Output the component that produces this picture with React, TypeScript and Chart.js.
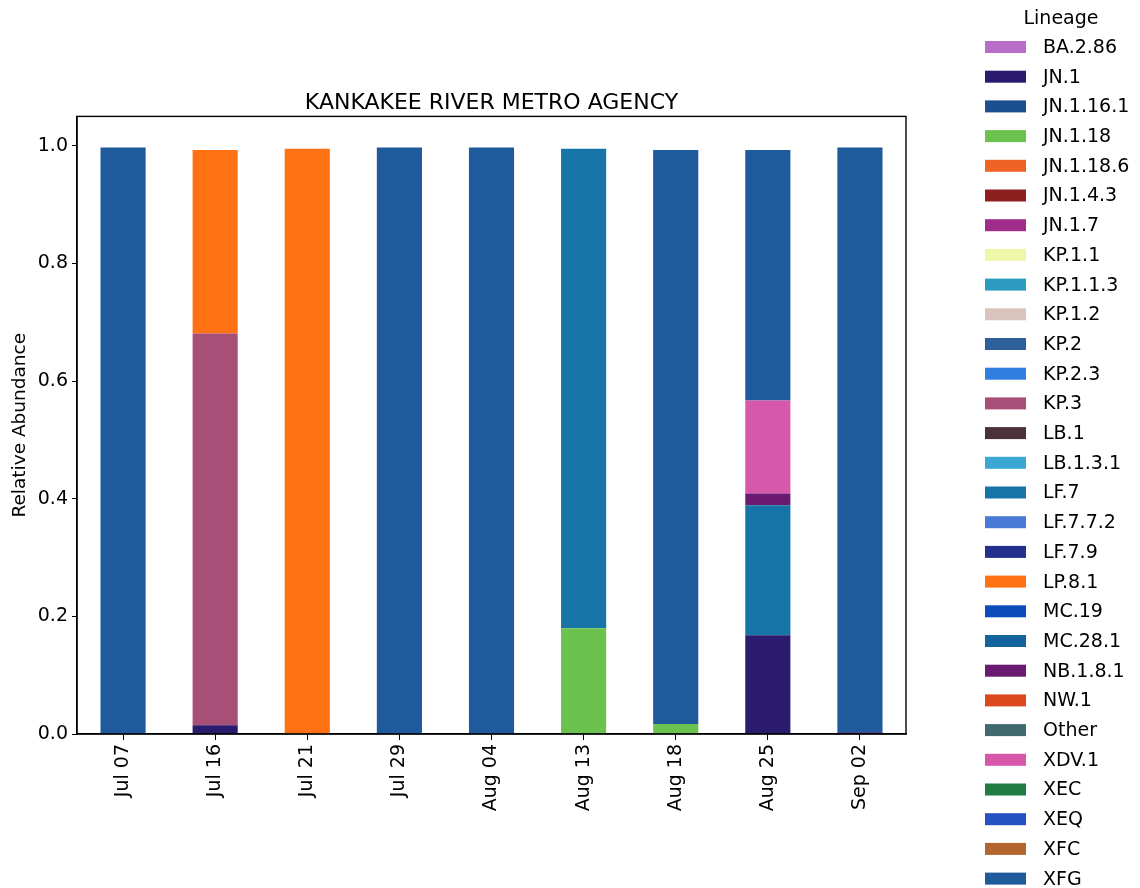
import React, { useEffect, useRef } from "react";
import { Chart, registerables } from "chart.js";

Chart.register(...registerables);

const FONT = "DejaVu Sans";

const dates = ["Jul 07", "Jul 16", "Jul 21", "Jul 29", "Aug 04", "Aug 13", "Aug 18", "Aug 25", "Sep 02"];

const lineages = [
  "BA.2.86", "JN.1", "JN.1.16.1", "JN.1.18", "JN.1.18.6", "JN.1.4.3", "JN.1.7", "KP.1.1", "KP.1.1.3", "KP.1.2",
  "KP.2", "KP.2.3", "KP.3", "LB.1", "LB.1.3.1", "LF.7", "LF.7.7.2", "LF.7.9", "LP.8.1", "MC.19",
  "MC.28.1", "NB.1.8.1", "NW.1", "Other", "XDV.1", "XEC", "XEQ", "XFC", "XFG",
];

const colors = [
  "#b86ec8", "#2a1b6e", "#1b4f8f", "#6cc24f", "#ef6424", "#8e1f1f", "#a02c8c", "#eef7a8", "#2b9cc0", "#d9c3bc",
  "#2e5f9a", "#2f7ee0", "#a84f78", "#4b3239", "#3aa8d2", "#1774a6", "#4a7ad8", "#22318c", "#ff7214", "#0a4db8",
  "#13639c", "#6a1a70", "#da4a1e", "#40686f", "#d757ab", "#1f7d44", "#2452c0", "#b2662e", "#1e5a9c",
];

// values per lineage across dates (only non-zero lineages listed)
const JN_1 = [0, 0.015, 0, 0, 0, 0, 0, 0.168, 0.003];
const JN_1_18 = [0, 0, 0, 0, 0, 0.18, 0.017, 0, 0];
const KP_3 = [0, 0.666, 0, 0, 0, 0, 0, 0, 0];
const LF_7 = [0, 0, 0, 0, 0, 0.815, 0, 0.221, 0];
const LP_8_1 = [0, 0.312, 0.995, 0, 0, 0, 0, 0, 0];
const NB_1_8_1 = [0, 0, 0, 0, 0, 0, 0, 0.02, 0];
const XDV_1 = [0, 0, 0, 0, 0, 0, 0, 0.158, 0];
const XFG = [0.997, 0, 0, 0.997, 0.997, 0, 0.976, 0.426, 0.994];
const ZERO = [0, 0, 0, 0, 0, 0, 0, 0, 0];

const seriesValues: Record<string, number[]> = {
  "JN.1": JN_1,
  "JN.1.18": JN_1_18,
  "KP.3": KP_3,
  "LF.7": LF_7,
  "LP.8.1": LP_8_1,
  "NB.1.8.1": NB_1_8_1,
  "XDV.1": XDV_1,
  "XFG": XFG,
};

const yTicks = [0, 0.2, 0.4, 0.6, 0.8, 1.0];

const legendPlugin = {
  id: "customLegend",
  afterDraw(chart: any) {
    const ctx = chart.ctx;
    ctx.save();
    ctx.fillStyle = "#000";
    ctx.font = `19px "${FONT}"`;
    ctx.textAlign = "center";
    ctx.textBaseline = "middle";
    ctx.fillText("Lineage", 1061, 19);
    ctx.textAlign = "left";
    chart.data.datasets.forEach((ds: any, i: number) => {
      const y = 47 + i * 29.7;
      ctx.fillStyle = ds.backgroundColor;
      ctx.fillRect(985, y - 6, 41, 12);
      ctx.fillStyle = "#000";
      ctx.fillText(ds.label, 1043, y + 1);
    });
    ctx.restore();
  },
};

const framePlugin = {
  id: "frame",
  afterDraw(chart: any) {
    const { ctx, chartArea } = chart;
    ctx.save();
    ctx.strokeStyle = "#000";
    ctx.lineWidth = 1.4;
    ctx.strokeRect(chartArea.left, chartArea.top, chartArea.right - chartArea.left, chartArea.bottom - chartArea.top);
    ctx.restore();
  },
};

export default function App() {
  const ref = useRef<HTMLCanvasElement>(null);
  useEffect(() => {
    if (!ref.current) return;
    const chart = new Chart(ref.current, {
      type: "bar",
      data: {
        labels: dates,
        datasets: lineages.map((name, i) => ({
          label: name,
          data: seriesValues[name] || ZERO,
          backgroundColor: colors[i],
          borderWidth: 0,
          barPercentage: 0.49,
          categoryPercentage: 1.0,
        })),
      },
      options: {
        responsive: false,
        animation: false,
        devicePixelRatio: 1,
        layout: { padding: { right: 234, top: 0, left: 0, bottom: 0 } },
        plugins: {
          legend: { display: false },
          tooltip: { enabled: false },
          title: {
            display: true,
            text: "KANKAKEE RIVER METRO AGENCY",
            color: "#000",
            fullSize: false,
            font: { family: FONT, size: 22, weight: "normal" },
            padding: { top: 90, bottom: 0 },
          },
        },
        scales: {
          x: {
            stacked: true,
            offset: true,
            grid: { display: true, drawOnChartArea: false, drawTicks: true, tickLength: 6, color: "#000", offset: false },
            border: { display: true, color: "#000", width: 1.4 },
            ticks: {
              color: "#000",
              font: { family: FONT, size: 19 },
              minRotation: 90,
              maxRotation: 90,
              autoSkip: false,
              padding: 4,
            },
            afterFit: (scale: any) => {
              scale.height = 154;
            },
          },
          y: {
            stacked: true,
            min: 0,
            max: 1.05,
            grid: { display: true, drawOnChartArea: false, drawTicks: true, tickLength: 5, color: "#000" },
            border: { display: true, color: "#000", width: 1.4 },
            afterBuildTicks: (scale: any) => {
              scale.ticks = yTicks.map((v) => ({ value: v }));
            },
            ticks: {
              color: "#000",
              font: { family: FONT, size: 19 },
              padding: 4,
              callback: (v: any) => Number(v).toFixed(1),
            },
            title: {
              display: true,
              text: "Relative Abundance",
              color: "#000",
              font: { family: FONT, size: 18.5 },
              padding: { top: 9, bottom: 0 },
            },
            afterFit: (scale: any) => {
              scale.width = 77;
            },
          },
        },
      },
      plugins: [legendPlugin, framePlugin],
    });
    return () => chart.destroy();
  }, []);
  return (
    <div style={{ position: "fixed", left: 0, top: 0, width: 1140, height: 888, background: "#fff" }}>
      <canvas ref={ref} width={1140} height={888} />
    </div>
  );
}
